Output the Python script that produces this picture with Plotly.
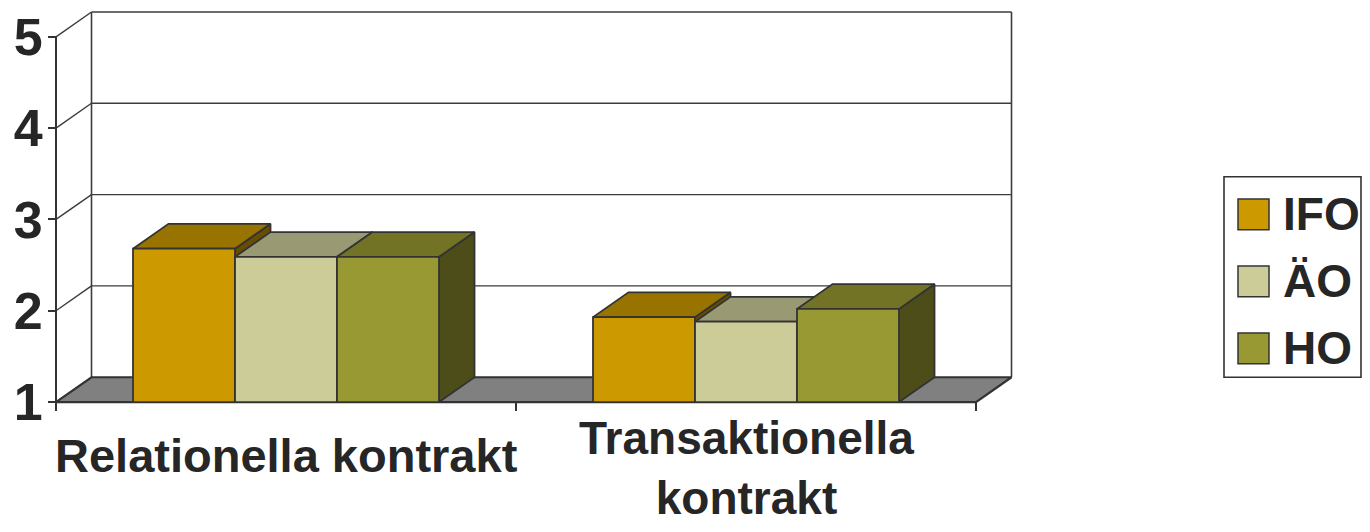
import plotly.graph_objects as go

# ---- data ----
categories = ["Relationella kontrakt", "Transaktionella<br>kontrakt"]
series_names = ["IFO", "ÄO", "HO"]
ifo_values = [2.68, 1.93]
ao_values = [2.59, 1.88]
ho_values = [2.59, 2.02]
y_ticks = [1, 2, 3, 4, 5]

series_values = [ifo_values, ao_values, ho_values]
front_colors = ["#CC9900", "#CCCC99", "#999933"]
top_colors = ["#997300", "#999973", "#737326"]
side_colors = ["#664D00", "#66664D", "#4D4D1A"]

EDGE = "#333333"
TXT = "#262626"
FONT = "Liberation Sans, Arial, sans-serif"

# page offset (browser body margin) - keep the figure inside the window
OFF = 8
W, H = 1370 - 2 * OFF, 532 - 2 * OFF

# plot area in window pixels
PX0, PX1 = 50, 1020
PY0, PY1 = 8, 408
PW, PH = PX1 - PX0, PY1 - PY0

def px2paper_x(px):
    return (px - PX0) / PW

def py2paper_y(py):
    return (PY1 - py) / PH

# geometry (in axis units)
bw = 102 / 460          # bar width
dx = 35.5 / 460         # depth offset x
dy = 25 / 92            # depth offset y
base = 1

fig = go.Figure()

def poly(xs, ys, fill, name=None, width=1.8):
    fig.add_trace(go.Scatter(
        x=xs + [xs[0]], y=ys + [ys[0]], mode="lines", fill="toself",
        fillcolor=fill, line=dict(color=EDGE, width=width),
        showlegend=False, hoverinfo="skip" if name is None else "text",
        text=name, name=name or ""))

# floor
x_left, x_right = -0.5, len(categories) - 0.5
poly([x_left, x_right, x_right + dx, x_left + dx],
     [base, base, base + dy, base + dy], "#808080", width=2.2)

# bars (painter's order: left to right)
for g in range(len(categories)):
    for s in range(len(series_names)):
        h = series_values[s][g]
        xl = g + (s - 1.5) * bw
        xr = xl + bw
        poly([xr, xr + dx, xr + dx, xr], [base, base + dy, h + dy, h], side_colors[s])
        poly([xl, xr, xr + dx, xl + dx], [h, h, h + dy, h + dy], top_colors[s])
        poly([xl, xr, xr, xl], [base, base, h, h], front_colors[s],
             name=f"{series_names[s]}: {h}")

shapes = []
# back wall gridlines & frame
for v in y_ticks[1:]:
    shapes.append(dict(type="line", xref="x", yref="y", layer="below",
                       x0=x_left + dx, x1=x_right + dx, y0=v + dy, y1=v + dy,
                       line=dict(color="#3c3c3c", width=1.4)))
for xe in (x_left + dx, x_right + dx):
    shapes.append(dict(type="line", xref="x", yref="y", layer="below",
                       x0=xe, x1=xe, y0=base + dy, y1=y_ticks[-1] + dy,
                       line=dict(color="#3c3c3c", width=1.6)))
# diagonals from front axis to back wall
for v in y_ticks:
    shapes.append(dict(type="line", xref="x", yref="y", layer="below",
                       x0=x_left, x1=x_left + dx, y0=v, y1=v + dy,
                       line=dict(color="#3c3c3c", width=1.4)))
# front vertical axis
shapes.append(dict(type="line", xref="x", yref="y", layer="above",
                   x0=x_left, x1=x_left, y0=base, y1=y_ticks[-1],
                   line=dict(color=EDGE, width=2)))

# legend (manual, to match the large swatches)
shapes.append(dict(type="rect", xref="paper", yref="paper",
                   x0=px2paper_x(1224), x1=px2paper_x(1361),
                   y0=py2paper_y(377), y1=py2paper_y(175),
                   line=dict(color=EDGE, width=1.6), fillcolor="white"))
row_py = [213, 280.5, 348]
annotations = []
for i, nm in enumerate(series_names):
    cy = row_py[i]
    shapes.append(dict(type="rect", xref="paper", yref="paper",
                       x0=px2paper_x(1238), x1=px2paper_x(1269),
                       y0=py2paper_y(cy + 15.5), y1=py2paper_y(cy - 15.5),
                       fillcolor=front_colors[i], line=dict(color=EDGE, width=1.5)))
    annotations.append(dict(text=nm, xref="paper", yref="paper",
                            x=px2paper_x(1281), y=py2paper_y(cy),
                            xanchor="left", yanchor="middle", showarrow=False,
                            font=dict(family=FONT, size=46, color=TXT, weight="bold")))

# category labels
label_py = [455.5, 468]
label_size = [47, 46]
for g, c in enumerate(categories):
    annotations.append(dict(text=c, xref="x", yref="paper", x=g, y=py2paper_y(label_py[g]),
                            xanchor="center", yanchor="middle", showarrow=False,
                            font=dict(family=FONT, size=label_size[g], color=TXT,
                                      weight="bold")))

fig.update_layout(
    width=W, height=H,
    margin=dict(l=PX0 - OFF, r=W - (PX1 - OFF), t=PY0 - OFF, b=H - (PY1 - OFF)),
    paper_bgcolor="white", plot_bgcolor="white",
    showlegend=False,
    shapes=shapes, annotations=annotations,
    xaxis=dict(range=[-0.5 - 6 / 460, -0.5 + (PX1 - 56) / 460], showgrid=False, zeroline=False,
               showline=False, tickvals=[-0.5, 0.5, 1.5], ticks="outside", ticklen=8,
               tickwidth=1.6, tickcolor=EDGE, showticklabels=False,
               anchor="free", position=(PY1 - 402) / PH, fixedrange=True),
    yaxis=dict(range=[1 - (PY1 - 402) / 92, 1 + (402 - PY0) / 92], showgrid=False,
               zeroline=False, showline=False, tickvals=y_ticks, ticks="outside", ticklen=8,
               tickwidth=1.6, tickcolor=EDGE, ticklabeloverflow="allow",
               ticklabelstandoff=-5,
               tickfont=dict(family=FONT, size=52, color=TXT, weight="bold"),
               anchor="free", position=(56 - PX0) / PW, fixedrange=True),
)

fig.write_html("out.html")
